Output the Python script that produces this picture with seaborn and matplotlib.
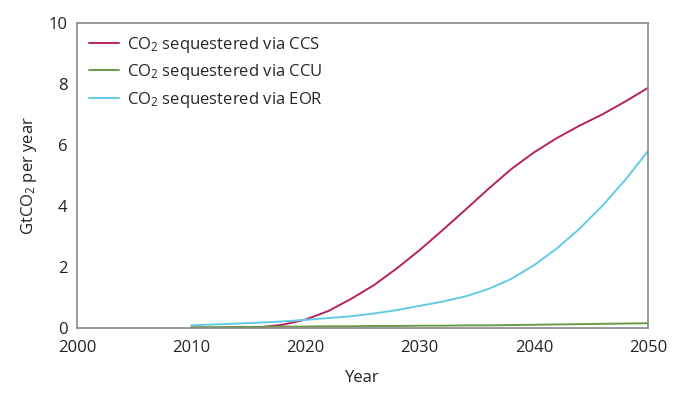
import pandas as pd
import matplotlib
matplotlib.use('Agg')
import matplotlib.pyplot as plt
import seaborn as sns

years = [2010, 2012, 2014, 2016, 2018, 2020, 2022, 2024, 2026, 2028, 2030,
         2032, 2034, 2036, 2038, 2040, 2042, 2044, 2046, 2048, 2050]
ccs = [0.0, 0.0, 0.0, 0.02, 0.1, 0.27, 0.55, 0.95, 1.4, 1.95, 2.55,
       3.2, 3.87, 4.55, 5.2, 5.75, 6.22, 6.63, 7.0, 7.42, 7.87]
ccu = [0.02, 0.02, 0.03, 0.03, 0.04, 0.04, 0.05, 0.05, 0.06, 0.06, 0.07,
       0.07, 0.08, 0.08, 0.09, 0.1, 0.11, 0.12, 0.13, 0.14, 0.15]
eor = [0.08, 0.11, 0.14, 0.17, 0.21, 0.26, 0.32, 0.38, 0.47, 0.58, 0.72,
       0.86, 1.03, 1.27, 1.6, 2.05, 2.6, 3.25, 4.0, 4.85, 5.8]

labels = ['CO$_2$ sequestered via CCS', 'CO$_2$ sequestered via CCU',
          'CO$_2$ sequestered via EOR']
colors = ['#b3245a', '#6b9a45', '#62cbe6']

df = pd.DataFrame({'Year': years * 3,
                   'value': ccs + ccu + eor,
                   'series': [labels[0]] * len(years) + [labels[1]] * len(years) + [labels[2]] * len(years)})

sns.set_style('white')
plt.rcParams['font.family'] = ['Open Sans', 'DejaVu Sans']
plt.rcParams['mathtext.default'] = 'regular'

fig = plt.figure(figsize=(6.88, 3.94), dpi=100)
ax = fig.add_axes([0.112, 0.168, 0.830, 0.774])

sns.lineplot(data=df, x='Year', y='value', hue='series', palette=colors,
             hue_order=labels, linewidth=1.4, ax=ax)

ax.set_xlim(2000, 2050)
ax.set_ylim(0, 10)
ax.set_xticks([2000, 2010, 2020, 2030, 2040, 2050])
ax.set_yticks([0, 2, 4, 6, 8, 10])
ax.tick_params(axis='both', direction='out', length=5, width=1, color='#8a8a8a',
               labelsize=12, labelcolor='#222222', pad=2)
ax.tick_params(axis='x', pad=4)
for s in ax.spines.values():
    s.set_color('#8a8a8a')
    s.set_linewidth(1.2)

ax.set_xlabel('Year', fontsize=12, color='#222222', labelpad=10)
ax.set_ylabel('GtCO$_2$ per year', fontsize=12, color='#222222', labelpad=7)

ax.legend(loc='upper left', frameon=False, fontsize=12, handlelength=1.8,
          handletextpad=0.5, labelspacing=0.45, borderaxespad=0.3,
          bbox_to_anchor=(0.0, 1.0))

fig.savefig('out.png', dpi=100)
